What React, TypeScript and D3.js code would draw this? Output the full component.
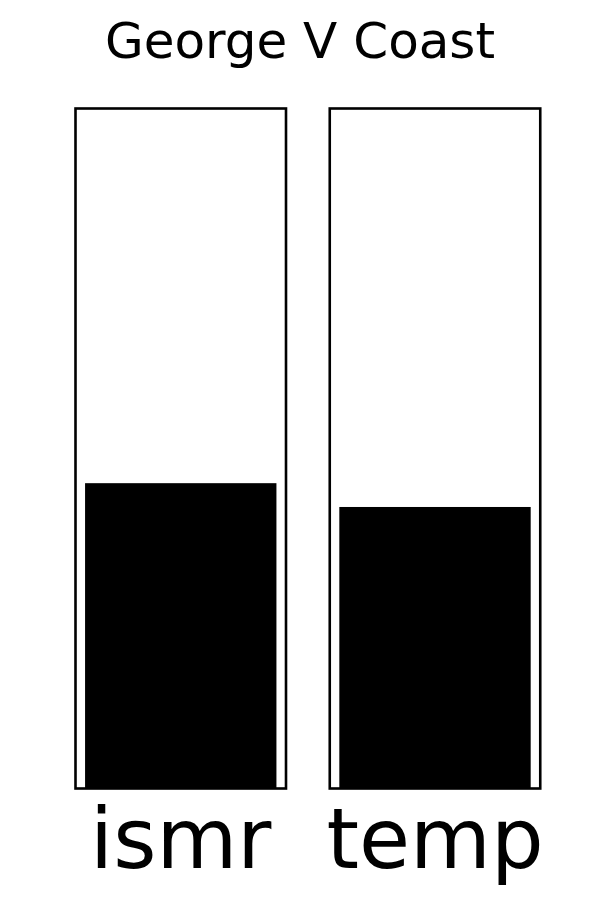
import React from "react";
import * as d3 from "d3";

const TITLE = "George V Coast";
const CATEGORIES = ["ismr", "temp"];
const VALUES = [0.449, 0.414];
const Y_DOMAIN = [0, 1];

const W = 600;
const H = 900;
const PANEL_LEFTS = [75.5, 329.75];
const PANEL_W = 210.5;
const TOP = 108.5;
const BOTTOM = 788.5;

export default function App() {
  const y = d3.scaleLinear().domain(Y_DOMAIN).range([BOTTOM, TOP]);
  return (
    <svg
      width={W}
      height={H}
      style={{ position: "absolute", left: 0, top: 0, background: "#fff" }}
      fontFamily="DejaVu Sans"
    >
      <rect x={0} y={0} width={W} height={H} fill="#fff" />
      <text x={300} y={58} textAnchor="middle" fontSize={50} fill="#000">
        {TITLE}
      </text>
      {CATEGORIES.map((cat, i) => {
        const x = d3
          .scaleLinear()
          .domain([-0.44, 0.44])
          .range([PANEL_LEFTS[i], PANEL_LEFTS[i] + PANEL_W]);
        const v = VALUES[i];
        return (
          <g key={cat}>
            <rect
              x={x(-0.4)}
              y={y(v)}
              width={x(0.4) - x(-0.4)}
              height={y(0) - y(v)}
              fill="#000"
            />
            <rect
              x={PANEL_LEFTS[i]}
              y={TOP}
              width={PANEL_W}
              height={BOTTOM - TOP}
              fill="none"
              stroke="#000"
              strokeWidth={2.6}
            />
            <text
              x={x(0)}
              y={868}
              textAnchor="middle"
              fontSize={83}
              fill="#000"
            >
              {cat}
            </text>
          </g>
        );
      })}
    </svg>
  );
}
